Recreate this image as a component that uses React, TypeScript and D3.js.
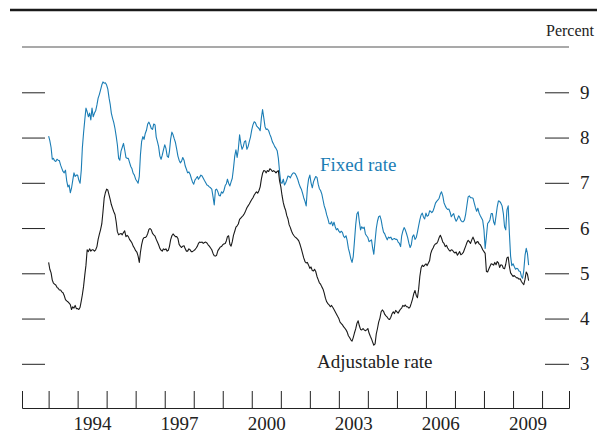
import React from 'react';
import * as d3 from 'd3';

// semi-monthly readings (1st and 16th of each month) starting January 1993
const seriesStart = new Date(1993, 0, 1);

const fixedRate = [
  8.03, 7.93, 7.78, 7.52, 7.54, 7.49, 7.47, 7.52, 7.50, 7.49,
  7.39, 7.32, 7.25, 7.22, 7.28, 7.05, 6.91, 6.95, 6.78, 6.88,
  7.06, 7.22, 7.14, 7.17, 7.17, 7.06, 6.99, 7.28, 7.76, 8.09,
  8.39, 8.65, 8.57, 8.46, 8.54, 8.39, 8.65, 8.46, 8.54, 8.59,
  8.72, 8.87, 8.95, 9.05, 9.16, 9.23, 9.20, 9.21, 9.16, 9.07,
  8.87, 8.72, 8.54, 8.43, 8.33, 8.20, 8.03, 7.84, 7.54, 7.50,
  7.70, 7.78, 7.87, 7.73, 7.56, 7.54, 7.54, 7.45, 7.36, 7.31,
  7.21, 7.17, 7.08, 7.04, 6.99, 7.14, 7.61, 7.91, 8.02, 7.96,
  8.09, 8.16, 8.30, 8.34, 8.28, 8.20, 8.18, 8.30, 8.28, 8.01,
  7.91, 7.80, 7.59, 7.52, 7.61, 7.73, 7.84, 7.76, 7.59, 7.56,
  7.69, 7.96, 8.12, 8.06, 7.97, 7.89, 7.74, 7.59, 7.50, 7.44,
  7.48, 7.56, 7.50, 7.37, 7.30, 7.22, 7.24, 7.19, 7.10, 7.02,
  6.97, 7.06, 7.10, 7.14, 7.08, 7.12, 7.17, 7.15, 7.10, 7.05,
  7.00, 6.95, 6.94, 6.91, 6.89, 6.86, 6.69, 6.51, 6.84, 6.86,
  6.80, 6.72, 6.71, 6.80, 6.77, 6.83, 6.94, 6.98, 7.08, 6.99,
  6.93, 7.02, 7.10, 7.32, 7.59, 7.73, 7.56, 7.74, 8.06, 7.87,
  7.74, 7.80, 7.91, 7.93, 7.74, 7.80, 7.91, 8.01, 8.17, 8.28,
  8.35, 8.33, 8.26, 8.23, 8.20, 8.15, 8.43, 8.62, 8.43, 8.24,
  8.18, 8.19, 8.15, 8.07, 8.00, 7.91, 7.86, 7.80, 7.76, 7.71,
  7.54, 7.25, 7.00, 6.99, 7.08, 6.95, 6.99, 7.06, 7.15, 7.14,
  7.11, 7.17, 7.21, 7.22, 7.20, 7.15, 7.08, 6.99, 6.91, 6.86,
  6.77, 6.67, 6.59, 6.49, 6.88, 7.08, 7.17, 7.00, 6.89, 7.02,
  7.08, 7.14, 7.12, 6.97, 6.87, 6.83, 6.75, 6.62, 6.49, 6.41,
  6.29, 6.21, 6.10, 6.09, 6.14, 6.05, 6.13, 6.03, 5.96, 5.99,
  5.93, 5.90, 5.93, 5.90, 5.82, 5.79, 5.83, 5.72, 5.55, 5.45,
  5.32, 5.24, 5.37, 5.70, 6.07, 6.31, 6.36, 6.14, 5.96, 6.03,
  5.99, 6.02, 5.87, 5.83, 5.79, 5.70, 5.72, 5.74, 5.56, 5.42,
  5.72, 5.99, 6.15, 6.25, 6.27, 6.18, 6.03, 5.91, 5.87, 5.80,
  5.74, 5.80, 5.78, 5.80, 5.74, 5.76, 5.77, 5.75, 5.75, 5.69,
  5.66, 5.59, 5.82, 5.93, 6.01, 5.96, 5.88, 5.79, 5.66, 5.57,
  5.63, 5.81, 5.85, 5.75, 5.79, 5.91, 6.05, 6.18, 6.29, 6.33,
  6.24, 6.20, 6.33, 6.26, 6.28, 6.38, 6.37, 6.34, 6.38, 6.46,
  6.55, 6.59, 6.62, 6.66, 6.75, 6.80, 6.71, 6.56, 6.49, 6.44,
  6.41, 6.42, 6.35, 6.25, 6.29, 6.32, 6.21, 6.15, 6.20, 6.27,
  6.24, 6.17, 6.14, 6.14, 6.18, 6.31, 6.51, 6.69, 6.71, 6.67,
  6.67, 6.66, 6.55, 6.45, 6.37, 6.44, 6.33, 6.27, 6.22, 6.17,
  5.96, 5.55, 5.82, 6.10, 6.13, 6.18, 6.32, 6.32, 6.14, 6.07,
  6.27, 6.47, 6.60, 6.59, 6.55, 6.49, 6.32, 6.03, 5.96, 6.40,
  6.49, 5.88, 5.38, 5.17, 5.21, 5.15, 5.09, 5.11, 5.10, 5.05,
  5.04, 4.93, 4.89, 5.06, 5.40, 5.55, 5.44, 5.18,
];

const adjustableRate = [
  5.24, 5.09, 5.01, 4.85, 4.79, 4.76, 4.74, 4.69, 4.67, 4.63,
  4.63, 4.59, 4.57, 4.51, 4.42, 4.39, 4.37, 4.34, 4.31, 4.20,
  4.26, 4.23, 4.29, 4.22, 4.22, 4.20, 4.25, 4.39, 4.52, 4.70,
  4.96, 5.18, 5.52, 5.48, 5.54, 5.49, 5.52, 5.52, 5.49, 5.52,
  5.59, 5.75, 5.86, 5.96, 6.09, 6.36, 6.66, 6.78, 6.86, 6.84,
  6.73, 6.62, 6.52, 6.44, 6.36, 6.30, 6.14, 5.92, 5.85, 5.87,
  5.88, 5.85, 5.90, 5.94, 5.81, 5.84, 5.81, 5.75, 5.71, 5.67,
  5.60, 5.56, 5.50, 5.47, 5.38, 5.24, 5.46, 5.63, 5.75, 5.79,
  5.79, 5.81, 5.88, 5.97, 5.99, 5.96, 5.88, 5.85, 5.82, 5.75,
  5.69, 5.63, 5.55, 5.51, 5.49, 5.54, 5.52, 5.54, 5.49, 5.51,
  5.59, 5.74, 5.83, 5.87, 5.84, 5.81, 5.81, 5.77, 5.64, 5.60,
  5.57, 5.60, 5.61, 5.54, 5.49, 5.49, 5.54, 5.52, 5.48, 5.48,
  5.50, 5.52, 5.56, 5.60, 5.66, 5.69, 5.68, 5.69, 5.66, 5.68,
  5.69, 5.67, 5.63, 5.60, 5.56, 5.52, 5.44, 5.39, 5.38, 5.40,
  5.50, 5.54, 5.58, 5.59, 5.63, 5.65, 5.66, 5.72, 5.81, 5.83,
  5.64, 5.60, 5.70, 5.84, 5.93, 6.02, 6.05, 6.09, 6.19, 6.22,
  6.25, 6.28, 6.32, 6.38, 6.45, 6.49, 6.53, 6.58, 6.63, 6.67,
  6.73, 6.77, 6.80, 6.77, 6.83, 6.91, 7.08, 7.21, 7.27, 7.26,
  7.22, 7.27, 7.25, 7.31, 7.29, 7.25, 7.27, 7.25, 7.22, 7.25,
  7.27, 7.04, 6.91, 6.72, 6.56, 6.46, 6.40, 6.28, 6.20, 6.07,
  6.01, 5.93, 5.87, 5.83, 5.80, 5.78, 5.75, 5.71, 5.63, 5.54,
  5.44, 5.34, 5.26, 5.23, 5.24, 5.18, 5.11, 5.14, 5.06, 5.05,
  5.09, 5.04, 4.93, 4.86, 4.79, 4.76, 4.70, 4.65, 4.56, 4.45,
  4.37, 4.33, 4.30, 4.26, 4.29, 4.25, 4.20, 4.15, 4.10, 4.05,
  4.00, 3.92, 3.89, 3.86, 3.82, 3.79, 3.75, 3.70, 3.62, 3.58,
  3.53, 3.50, 3.58, 3.68, 3.77, 3.89, 3.95, 3.84, 3.76, 3.75,
  3.78, 3.75, 3.73, 3.75, 3.78, 3.68, 3.61, 3.55, 3.48, 3.41,
  3.44, 3.66, 3.78, 3.92, 4.01, 4.15, 4.19, 4.16, 4.09, 4.06,
  4.03, 3.99, 3.98, 4.03, 4.11, 4.15, 4.11, 4.18, 4.15, 4.12,
  4.17, 4.21, 4.23, 4.29, 4.27, 4.30, 4.26, 4.26, 4.23, 4.26,
  4.34, 4.43, 4.55, 4.62, 4.51, 4.46, 4.65, 4.93, 5.12, 5.18,
  5.15, 5.18, 5.21, 5.17, 5.23, 5.28, 5.43, 5.51, 5.56, 5.62,
  5.65, 5.66, 5.71, 5.79, 5.84, 5.78, 5.69, 5.66, 5.59, 5.62,
  5.56, 5.52, 5.49, 5.52, 5.51, 5.47, 5.45, 5.47, 5.40, 5.44,
  5.48, 5.41, 5.43, 5.46, 5.53, 5.60, 5.68, 5.73, 5.70, 5.66,
  5.74, 5.80, 5.73, 5.65, 5.69, 5.70, 5.65, 5.63, 5.58, 5.52,
  5.48, 5.44, 5.04, 5.03, 5.09, 5.15, 5.21, 5.20, 5.18, 5.24,
  5.19, 5.26, 5.23, 5.13, 5.19, 5.18, 5.11, 5.10, 5.20, 5.34,
  5.36, 5.15, 5.01, 4.97, 4.93, 4.95, 4.92, 4.90, 4.90, 4.87,
  4.88, 4.82, 4.78, 4.75, 4.87, 5.03, 4.98, 4.84,
];

const yTicks = [3, 4, 5, 6, 7, 8, 9];
const yearTicks = d3.range(1993, 2011);
const yearLabels = [1994, 1997, 2000, 2003, 2006, 2009];

const App = () => {
  const ref = React.useRef<SVGSVGElement>(null);

  React.useEffect(() => {
    const svg = d3.select(ref.current);
    svg.selectAll('*').remove();

    const width = 597;
    const font = '"Liberation Serif", "Times New Roman", serif';
    const blue = '#1b7db5';
    const ink = '#222';

    const x = d3.scaleTime()
      .domain([new Date(1992, 1, 1), new Date(2010, 11, 6)])
      .range([22, 569]);
    const y = d3.scaleLinear().domain([3, 9]).range([363.8, 92.3]);

    const dates = fixedRate.map((_, i) =>
      d3.timeDay.offset(d3.timeMonth.offset(seriesStart, Math.floor(i / 2)), (i % 2) * 15));

    // header rules
    svg.append('line')
      .attr('x1', 10).attr('x2', width).attr('y1', 10).attr('y2', 10)
      .attr('stroke', '#1a1a1a').attr('stroke-width', 2.5);
    svg.append('line')
      .attr('x1', 22).attr('x2', 569).attr('y1', 47).attr('y2', 47)
      .attr('stroke', '#8c8c8c').attr('stroke-width', 1.5);
    svg.append('text')
      .attr('x', 546).attr('y', 36)
      .attr('font-family', font).attr('font-size', 16).attr('fill', ink)
      .text('Percent');

    // y ticks, left (no labels) and right
    const left = svg.append('g')
      .attr('transform', 'translate(22,0)')
      .call(d3.axisRight(y).tickValues(yTicks).tickSize(23).tickFormat(() => ''));
    left.select('.domain').remove();
    left.selectAll('line').attr('stroke', ink);

    const right = svg.append('g')
      .attr('transform', 'translate(545,0)')
      .call(d3.axisRight(y).tickValues(yTicks).tickSize(24).tickPadding(11).tickFormat(d3.format('d')));
    right.select('.domain').remove();
    right.selectAll('line').attr('stroke', ink);
    right.attr('font-family', font).attr('font-size', 19);
    right.selectAll('text').attr('fill', ink);

    // x axis with year ticks pointing up
    const xAxis = svg.append('g')
      .attr('transform', 'translate(0,408)')
      .call(d3.axisBottom(x)
        .tickValues(yearTicks.map(yr => new Date(yr, 0, 1)))
        .tickSizeInner(-17).tickSizeOuter(-17)
        .tickFormat(() => ''));
    xAxis.selectAll('line, path').attr('stroke', ink);

    const xLabels = svg.append('g')
      .attr('transform', 'translate(0,416)')
      .call(d3.axisBottom(x)
        .tickValues(yearLabels.map(yr => new Date(yr, 6, 1)))
        .tickSize(0).tickPadding(0)
        .tickFormat(d3.timeFormat('%Y')));
    xLabels.select('.domain').remove();
    xLabels.attr('font-family', font).attr('font-size', 19);
    xLabels.selectAll('text').attr('fill', ink);

    const line = d3.line<number>()
      .x((_, i) => x(dates[i]))
      .y(d => y(d));

    svg.append('path')
      .datum(fixedRate)
      .attr('fill', 'none')
      .attr('stroke', blue)
      .attr('stroke-width', 1.1)
      .attr('stroke-linejoin', 'round')
      .attr('d', line);

    svg.append('path')
      .datum(adjustableRate)
      .attr('fill', 'none')
      .attr('stroke', '#1a1a1a')
      .attr('stroke-width', 1.1)
      .attr('stroke-linejoin', 'round')
      .attr('d', line);

    svg.append('text')
      .attr('x', 320).attr('y', 171)
      .attr('font-family', font).attr('font-size', 19).attr('fill', blue)
      .text('Fixed rate');
    svg.append('text')
      .attr('x', 317).attr('y', 368)
      .attr('font-family', font).attr('font-size', 19).attr('fill', ink)
      .text('Adjustable rate');
  }, []);

  return (
    <svg
      ref={ref}
      width={597}
      height={432}
      style={{ position: 'absolute', left: 0, top: 0, background: '#fff' }}
    />
  );
};

export default App;
